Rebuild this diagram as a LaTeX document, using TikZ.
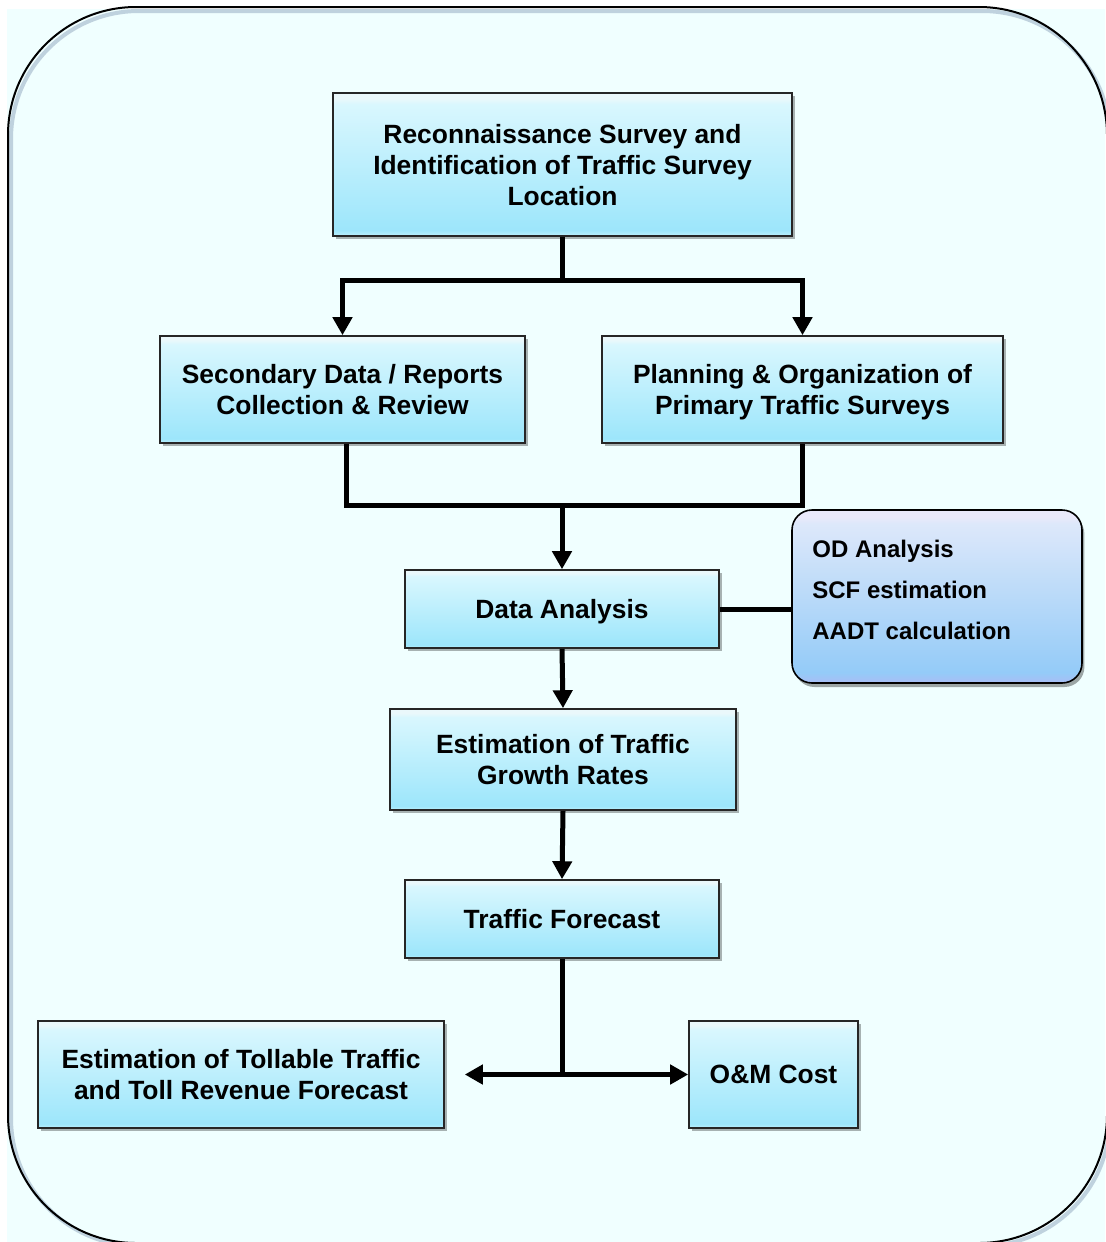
\documentclass[tikz,border=0pt]{standalone}
\usepackage{fontspec}
\setmainfont{Liberation Sans}
\usetikzlibrary{arrows.meta,shadows,calc}

\definecolor{bgazure}{HTML}{F0FFFF}
\definecolor{frameshadow}{HTML}{9FB4C8}
\definecolor{bxband}{HTML}{BDF0FC}
\definecolor{bxlow}{HTML}{9DE6FB}
\definecolor{bxhigh}{HTML}{D9F7FE}
\definecolor{bxtop}{HTML}{EAF8FB}
\definecolor{odband}{HTML}{A9BDF4}
\definecolor{odlow}{HTML}{94CBF8}
\definecolor{odhigh}{HTML}{DDE8FA}
\definecolor{odtop}{HTML}{E9E9FA}

% vertical shadings: the node spans 25bp..75bp of the 100bp shading
\pgfdeclareverticalshading{boxshade}{100bp}{color(0bp)=(bxband); color(25bp)=(bxband); color(27bp)=(bxlow); color(71bp)=(bxhigh); color(73bp)=(bxtop); color(100bp)=(bxtop)}
\pgfdeclareverticalshading{odshade}{100bp}{color(0bp)=(odband); color(25bp)=(odband); color(28bp)=(odlow); color(71bp)=(odhigh); color(73bp)=(odtop); color(100bp)=(odtop)}

\tikzset{
  stepbox/.style={draw=black!85, line width=0.8pt, shade, shading=boxshade,
    inner sep=0pt, align=center, text depth=0pt,
    font=\bfseries\fontsize{13.2}{15.5}\selectfont,
    drop shadow={shadow xshift=1.5pt, shadow yshift=-1.5pt, fill=black, opacity=0.3}},
  notebox/.style={draw=black, line width=0.8pt, shade, shading=odshade,
    rounded corners=10pt, inner sep=0pt,
    drop shadow={shadow xshift=1.2pt, shadow yshift=-2pt, fill=black, opacity=0.35}},
  notetext/.style={anchor=west, align=left, inner sep=0pt,
    font=\bfseries\fontsize{12}{20.5}\selectfont},
  conn/.style={draw=black, line width=2.5pt, miter limit=10},
  tip/.tip={Triangle[length=9pt, width=9.5pt]},
  arr/.style={conn, -tip},
  twoarr/.style={conn, tip-tip}
}

\begin{document}
\begin{tikzpicture}[x=0.5pt, y=-0.5pt]
  \useasboundingbox (0,0) rectangle (1105,1242);
  \fill[white] (0,0) rectangle (1105,1242);
  \fill[bgazure] (7,9) rectangle (1105,1242);

  % outer rounded frame with a soft shadow
  \draw[frameshadow, line width=2pt, opacity=0.6, rounded corners=64pt]
    (11,11) rectangle (1110,1246);
  \draw[black, line width=1pt, rounded corners=64pt]
    (8,7) rectangle (1107,1243);

  % process boxes
  \node[stepbox, minimum width=229.5pt, minimum height=71.5pt] (recon) at (562.5,164.5)
    {Reconnaissance Survey and\\Identification of Traffic Survey\\Location};
  \node[stepbox, minimum width=182.5pt, minimum height=53.5pt] (sec) at (342.5,389.5)
    {Secondary Data / Reports\\Collection \& Review};
  \node[stepbox, minimum width=200.5pt, minimum height=53.5pt] (plan) at (802.5,389.5)
    {Planning \& Organization of\\Primary Traffic Surveys};
  \node[stepbox, minimum width=157pt, minimum height=39pt] (da) at (562,609)
    {Data Analysis};
  \node[stepbox, minimum width=173pt, minimum height=50.5pt] (est) at (563,759.5)
    {Estimation of Traffic\\Growth Rates};
  \node[stepbox, minimum width=157pt, minimum height=39pt] (tf) at (562,919)
    {Traffic Forecast};
  \node[stepbox, minimum width=203pt, minimum height=53.5pt] (toll) at (241,1074.5)
    {Estimation of Tollable Traffic\\and Toll Revenue Forecast};
  \node[stepbox, minimum width=84.5pt, minimum height=53.5pt] (om) at (773.5,1074.5)
    {O\&M Cost};

  % analysis tasks
  \node[notebox, minimum width=145pt, minimum height=86.5pt] (od) at (937,596.5) {};
  \node[notetext] (odtext) at (812,589.5)
    {OD Analysis\\SCF estimation\\AADT calculation};

  % connectors
  \coordinate (j1) at (563,280);
  \coordinate (j2) at (563,505);
  \draw[conn] (recon.south) -- (recon.south |- j1);
  \draw[twoarr] (sec.north) |- (j1) -| (plan.north);

  \draw[conn] ([xshift=2pt]sec.south) |- (j2) -| (plan.south);
  \draw[arr] (da.north |- j2) -- (da.north);

  \draw[conn] (da.east) -- (da.east -| od.west);
  \draw[arr] (da.south) -- (est.north);
  \draw[arr] (est.south) -- (tf.north);

  \draw[conn] (tf.south) -- (tf.south |- om.west);
  \draw[twoarr] ([xshift=10pt]toll.east) -- (om.west);
\end{tikzpicture}
\end{document}
